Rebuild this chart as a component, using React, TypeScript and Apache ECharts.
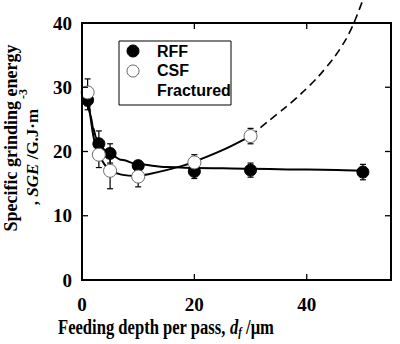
import React, { useEffect, useRef } from "react";
import * as echarts from "echarts";

// Measured points (feeding depth in µm, SGE in GJ/m^3)
const xRFF = [1, 3, 5, 10, 20, 30, 50];
const yRFF = [28.0, 21.2, 19.7, 17.8, 16.9, 17.1, 16.8];
const errRFF = [1.5, 2.0, 1.5, 0.6, 1.1, 1.1, 1.2];

const xCSF = [1, 3, 5, 10, 20, 30];
const yCSF = [29.2, 19.5, 17.0, 16.1, 18.3, 22.4];
const errCSF = [2.1, 2.0, 2.8, 1.6, 1.2, 1.2];

// Fitted curves
const rffCurveX = [1, 1.5, 2, 2.5, 3, 4, 5, 7, 10, 15, 20, 30, 40, 50];
const rffCurveY = [28.0, 25.6, 23.6, 22.2, 21.3, 20.3, 19.6, 18.7, 18.0, 17.6, 17.45, 17.3, 17.2, 17.0];

const csfCurveX = [1, 1.5, 2, 2.5, 3, 4, 5, 7, 10, 12, 15, 18, 20, 25, 30];
const csfCurveY = [29.2, 25.5, 22.5, 20.7, 19.6, 18.0, 17.1, 16.4, 16.2, 16.5, 17.1, 17.8, 18.4, 20.2, 22.4];

const fracX = [30, 33, 36, 39, 42, 45, 47, 48.4, 50];
const fracY = [22.4, 24.6, 26.7, 29.0, 31.6, 34.8, 37.5, 40.0, 43.6];

const xTicks = [0, 20, 40];
const yTicks = [0, 10, 20, 30, 40];
const xMax = 55;
const yMax = 40;

const legendNames = ["RFF", "CSF", "Fractured"];

const serif = "'Liberation Serif', 'Times New Roman', serif";
const sans = "'Liberation Sans', Arial, sans-serif";

const GRID = { left: 82, right: 9, top: 23, bottom: 64 };
const W = 400;
const H = 344;

export default function App() {
  const ref = useRef<HTMLDivElement>(null);
  useEffect(() => {
    if (!ref.current) return;
    document.body.style.margin = "0";
    document.body.style.overflow = "hidden";
    const chart = echarts.init(ref.current, null, { renderer: "svg" });
    const pair = (xs: number[], ys: number[]) => xs.map((x, i) => [x, ys[i]]);
    const errData = (xs: number[], ys: number[], es: number[]) =>
      xs.map((x, i) => [x, ys[i] - es[i], ys[i] + es[i]]);
    const renderErr = (params: any, api: any) => {
      const x = api.value(0);
      const lo = api.coord([x, api.value(1)]);
      const hi = api.coord([x, api.value(2)]);
      const w = 3;
      const st = { stroke: "#000", lineWidth: 1.2 };
      return {
        type: "group",
        children: [
          { type: "line", shape: { x1: lo[0], y1: lo[1], x2: hi[0], y2: hi[1] }, style: st },
          { type: "line", shape: { x1: lo[0] - w, y1: lo[1], x2: lo[0] + w, y2: lo[1] }, style: st },
          { type: "line", shape: { x1: hi[0] - w, y1: hi[1], x2: hi[0] + w, y2: hi[1] }, style: st },
        ],
      };
    };
    // Inward ticks on all four sides, from the axes' own scales
    const renderTicks = (params: any, api: any) => {
      const tl = api.coord([0, yMax]);
      const br = api.coord([xMax, 0]);
      const st = { stroke: "#000", lineWidth: 1.3 };
      const L = 6;
      const children: any[] = [];
      xTicks.forEach((t) => {
        const p = api.coord([t, 0]);
        children.push({ type: "line", shape: { x1: p[0], y1: br[1], x2: p[0], y2: br[1] - L }, style: st });
        children.push({ type: "line", shape: { x1: p[0], y1: tl[1], x2: p[0], y2: tl[1] + L }, style: st });
      });
      yTicks.forEach((t) => {
        const p = api.coord([0, t]);
        children.push({ type: "line", shape: { x1: tl[0], y1: p[1], x2: tl[0] + L, y2: p[1] }, style: st });
        children.push({ type: "line", shape: { x1: br[0], y1: p[1], x2: br[0] - L, y2: p[1] }, style: st });
      });
      return { type: "group", children };
    };
    const axisLabel = {
      fontFamily: serif,
      fontWeight: "bold",
      fontSize: 19,
      color: "#000",
    };

    chart.setOption({
      animation: false,
      backgroundColor: "#fff",
      grid: { ...GRID },
      xAxis: {
        type: "value",
        min: 0,
        max: xMax,
        interval: 20,
        position: "bottom",
        axisLine: { show: true, onZero: false, lineStyle: { color: "#000", width: 2 } },
        axisTick: { show: false },
        splitLine: { show: false },
        axisLabel: {
          ...axisLabel,
          margin: 15,
          formatter: (v: number) => (xTicks.includes(v) ? String(v) : ""),
        },
      },
      yAxis: {
        type: "value",
        min: 0,
        max: yMax,
        interval: 10,
        position: "left",
        axisLine: { show: true, onZero: false, lineStyle: { color: "#000", width: 2 } },
        axisTick: { show: false },
        splitLine: { show: false },
        axisLabel: {
          ...axisLabel,
          margin: 10,
          formatter: (v: number) => (yTicks.includes(v) ? String(v) : ""),
        },
      },
      series: [
        {
          name: "ticks",
          type: "custom",
          data: [[0, 0]],
          renderItem: renderTicks,
          clip: false,
          silent: true,
          z: 20,
        },
        {
          name: "RFF fit",
          type: "line",
          data: pair(rffCurveX, rffCurveY),
          smooth: 0.3,
          smoothMonotone: "x",
          showSymbol: false,
          lineStyle: { color: "#000", width: 2 },
          z: 2,
        },
        {
          name: "CSF fit",
          type: "line",
          data: pair(csfCurveX, csfCurveY),
          smooth: 0.3,
          showSymbol: false,
          lineStyle: { color: "#000", width: 2 },
          z: 2,
        },
        {
          name: "Fractured",
          type: "line",
          data: pair(fracX, fracY),
          smooth: 0.3,
          clip: false,
          showSymbol: false,
          lineStyle: { color: "#000", width: 1.6, type: [8, 5] },
          z: 2,
        },
        {
          name: "RFF err",
          type: "custom",
          data: errData(xRFF, yRFF, errRFF),
          renderItem: renderErr,
          encode: { x: 0, y: [1, 2] },
          z: 3,
        },
        {
          name: "CSF err",
          type: "custom",
          data: errData(xCSF, yCSF, errCSF),
          renderItem: renderErr,
          encode: { x: 0, y: [1, 2] },
          z: 3,
        },
        {
          name: "RFF",
          type: "scatter",
          data: pair(xRFF, yRFF),
          symbol: "circle",
          symbolSize: 12,
          itemStyle: { color: "#000", borderColor: "#000", borderWidth: 1, opacity: 1 },
          z: 5,
        },
        {
          name: "CSF",
          type: "scatter",
          data: pair(xCSF, yCSF),
          symbol: "circle",
          symbolSize: 13,
          itemStyle: { color: "#fff", borderColor: "#666", borderWidth: 1, opacity: 1 },
          z: 5,
        },
      ],
      graphic: [
        // plot frame (grid outline)
        {
          type: "rect",
          z: 30,
          silent: true,
          shape: {
            x: GRID.left,
            y: GRID.top,
            width: W - GRID.left - GRID.right,
            height: H - GRID.top - GRID.bottom,
          },
          style: { fill: "none", stroke: "#000", lineWidth: 2 },
        },
        // legend box
        {
          type: "rect",
          shape: { x: 119, y: 41, width: 112, height: 64 },
          style: { fill: "#fff", stroke: "#000", lineWidth: 1 },
          z: 10,
        },
        {
          type: "circle",
          shape: { cx: 133, cy: 51, r: 6 },
          style: { fill: "#000", stroke: "#000" },
          z: 11,
        },
        {
          type: "circle",
          shape: { cx: 133, cy: 71, r: 6 },
          style: { fill: "#fff", stroke: "#666", lineWidth: 1 },
          z: 11,
        },
        ...legendNames.map((n, i) => ({
          type: "text",
          x: 157,
          y: 51 + i * 19.5,
          style: {
            text: n,
            fontFamily: sans,
            fontWeight: "bold",
            fontSize: 16,
            fill: "#000",
            verticalAlign: "middle",
            align: "left",
          },
          z: 11,
        })),
        // y-axis title
        {
          type: "text",
          x: 11,
          y: 138,
          rotation: Math.PI / 2,
          style: {
            text: "Specific grinding energy",
            fontFamily: serif,
            fontWeight: "bold",
            fontSize: 18,
            fill: "#000",
            align: "center",
            verticalAlign: "middle",
          },
        },
        {
          type: "text",
          x: 32,
          y: 157,
          rotation: Math.PI / 2,
          style: {
            text: "{n|, }{i|SGE}{n| /G.J·m}",
            fill: "#000",
            align: "center",
            verticalAlign: "middle",
            rich: {
              n: { fontFamily: serif, fontWeight: "bold", fontSize: 17, fill: "#000" },
              i: { fontFamily: serif, fontWeight: "bold", fontStyle: "italic", fontSize: 17, fill: "#000" },
            },
          },
        },
        {
          type: "text",
          x: 23,
          y: 94,
          rotation: Math.PI / 2,
          style: {
            text: "-3",
            fontFamily: serif,
            fontWeight: "bold",
            fontSize: 12,
            fill: "#000",
            align: "center",
            verticalAlign: "middle",
          },
        },
        // x-axis title
        {
          type: "text",
          x: 58,
          y: 327,
          scaleX: 0.83,
          style: {
            text: "{b|Feeding depth per pass, }{i|d}{s|f}{b| /μm}",
            fill: "#000",
            align: "left",
            verticalAlign: "middle",
            rich: {
              b: { fontFamily: serif, fontWeight: "bold", fontSize: 20, fill: "#000", lineHeight: 22 },
              i: { fontFamily: serif, fontWeight: "bold", fontStyle: "italic", fontSize: 20, fill: "#000", lineHeight: 22 },
              s: {
                fontFamily: serif,
                fontWeight: "bold",
                fontStyle: "italic",
                fontSize: 13,
                fill: "#000",
                lineHeight: 13,
                padding: [9, 0, 0, 0],
                verticalAlign: "bottom",
              },
            },
          },
        },
      ],
    });

    return () => chart.dispose();
  }, []);
  return <div ref={ref} style={{ width: W, height: H }} />;
}
